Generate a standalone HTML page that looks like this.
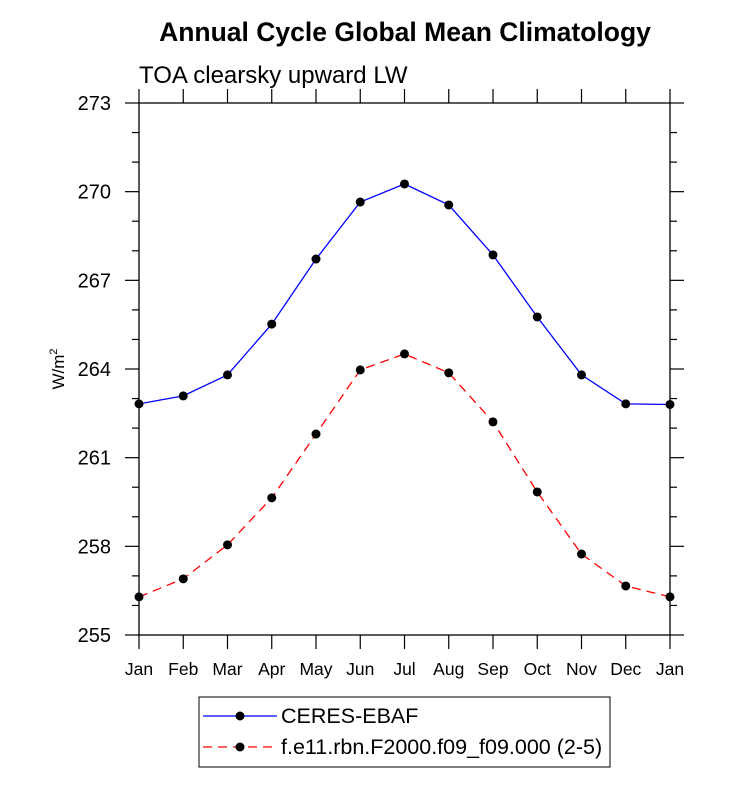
<!DOCTYPE html>
<html><head><meta charset="utf-8"><style>
body{margin:0;background:#fff}
svg text{font-family:"Liberation Sans",sans-serif}
</style></head><body>
<svg id="chart" width="733" height="789" xmlns="http://www.w3.org/2000/svg">
<text x="405" y="41" text-anchor="middle" font-size="26.5" font-weight="bold">Annual Cycle Global Mean Climatology</text>
<text x="139" y="83" font-size="24">TOA clearsky upward LW</text>
<text transform="translate(64,369) rotate(-90)" text-anchor="middle" font-size="17">W/m<tspan dy="-7" font-size="11">2</tspan></text>
<g id="axes"></g>
<g id="series"></g>
<g>
<rect x="199" y="697" width="411" height="70" fill="none" stroke="#000" stroke-width="1"/>
<g>
<line x1="203" y1="716" x2="277" y2="716" stroke="#00f" stroke-width="1.3"/>
<circle cx="240" cy="716" r="4.5" fill="#000"/>
<text x="281" y="723" font-size="21.5">CERES-EBAF</text></g>
<g>
<line x1="203" y1="747" x2="277" y2="747" stroke="#f00" stroke-width="1.3" stroke-dasharray="9,6"/>
<circle cx="240" cy="747" r="4.5" fill="#000"/>
<text x="281" y="754" font-size="21.5">f.e11.rbn.F2000.f09_f09.000 (2-5)</text></g>
</g>
</svg>
<script>
const months=["Jan","Feb","Mar","Apr","May","Jun","Jul","Aug","Sep","Oct","Nov","Dec","Jan"];
const yTicks=[255,258,261,264,267,270,273];
const ceres=[262.82,263.09,263.8,265.52,267.72,269.65,270.26,269.55,267.86,265.76,263.8,262.82,262.8];
const model=[256.29,256.9,258.05,259.64,261.8,263.97,264.51,263.87,262.21,259.84,257.74,256.66,256.29];
const L=139,R=670,T=103,B=635,ymin=255,ymax=273;
const xs=i=>L+(R-L)*i/(months.length-1);
const ys=v=>B-(v-ymin)/(ymax-ymin)*(B-T);
const NS="http://www.w3.org/2000/svg";
function mk(tag,attrs,parent){const e=document.createElementNS(NS,tag);for(const k in attrs)e.setAttribute(k,attrs[k]);parent.appendChild(e);return e;}
const ax=document.getElementById('axes');
const frame=mk('rect',{x:L,y:T,width:R-L,height:B-T,fill:'none',stroke:'#000','stroke-width':1.3},ax);


for(let v=ymin;v<=ymax;v++){
  const major=yTicks.includes(v);const len=major?14:7;const y=ys(v);
  mk('line',{x1:L-len,y1:y,x2:L,y2:y,stroke:'#000','stroke-width':1.2},ax);
  mk('line',{x1:R,y1:y,x2:R+len,y2:y,stroke:'#000','stroke-width':1.2},ax);
}
yTicks.forEach(v=>{
  const t=mk('text',{x:L-28,y:ys(v)+7,'text-anchor':'end','font-size':20},ax);t.textContent=v;
  
  
});
months.forEach((m,i)=>{
  const x=xs(i);
  mk('line',{x1:x,y1:B,x2:x,y2:B+14,stroke:'#000','stroke-width':1.2},ax);
  mk('line',{x1:x,y1:T-14,x2:x,y2:T,stroke:'#000','stroke-width':1.2},ax);
  const t=mk('text',{x:x,y:675,'text-anchor':'middle','font-size':17.5},ax);t.textContent=m;
  
  
});
const sg=document.getElementById('series');
function draw(data,color,dash,name){
  const g=mk('g',{},sg);
  
  
  const pts=data.map((v,i)=>xs(i)+','+ys(v)).join(' ');
  const a={points:pts,fill:'none',stroke:color,'stroke-width':1.3};if(dash)a['stroke-dasharray']=dash;
  mk('polyline',a,g);
  data.forEach((v,i)=>{const c=mk('circle',{cx:xs(i),cy:ys(v),r:4.5,fill:'#000'},g);
    
    });
}
draw(ceres,'#00f',null,'series-ceres-ebaf');
draw(model,'#f00','9,6','series-model');
</script>
</body></html>
